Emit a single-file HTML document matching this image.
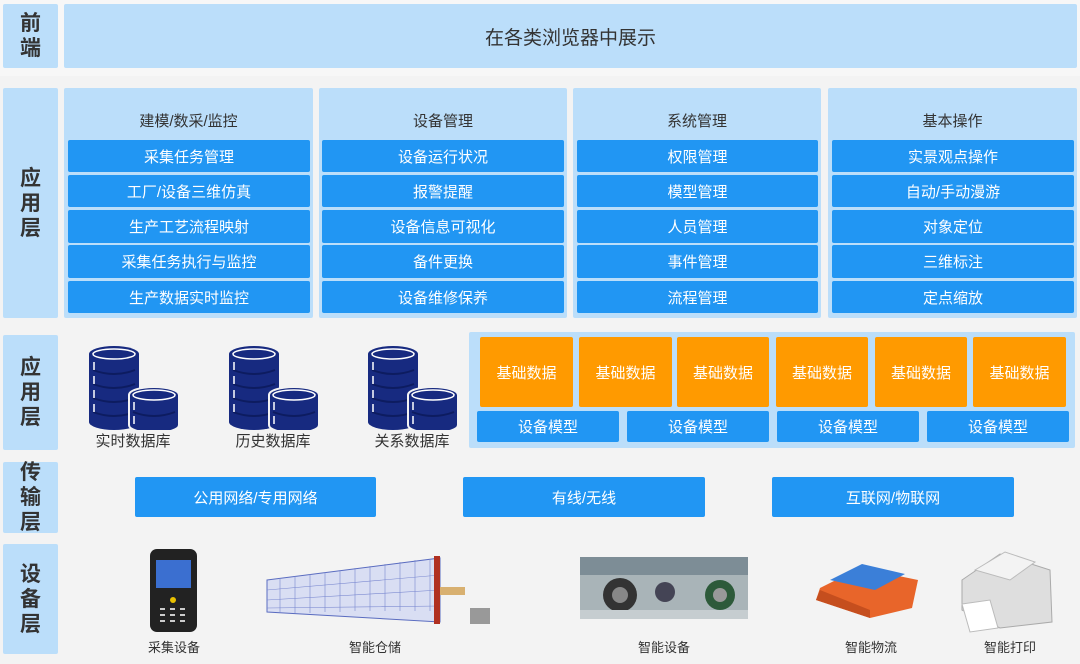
<!DOCTYPE html>
<html><head><meta charset="utf-8"><style>
*{margin:0;padding:0;box-sizing:border-box}
body{width:1080px;height:664px;background:#f3f3f3;position:relative;overflow:hidden;font-family:"Liberation Sans","Noto Sans CJK SC",sans-serif}
.a{position:absolute}
.lb{background:#bbdefa;border-radius:2px}
.lab{display:flex;flex-direction:column;align-items:center;justify-content:center;font-weight:bold;font-size:21px;color:#333;line-height:25px}
.bl{background:#2196f3;color:#fff;font-size:15px;display:flex;align-items:center;justify-content:center;border-radius:2px}
.or{background:#ff9a00;color:#fff;font-size:15px;display:flex;align-items:center;justify-content:center;border-radius:2px}
.hd{font-size:15px;color:#333;text-align:center}
.cap{font-size:13px;color:#333;text-align:center}
.dbc{font-size:15px;color:#333;text-align:center}
</style></head><body>
<div class="a" style="left:0;top:0;width:1080px;height:76px;background:#f7f7f7"></div>
<div class="a lb lab" style="left:3px;top:4px;width:55px;height:64px"><span>前</span><span>端</span></div>
<div class="a lb" style="left:64px;top:4px;width:1013px;height:64px;display:flex;align-items:center;justify-content:center;font-size:19px;color:#333">在各类浏览器中展示</div>

<div class="a lb lab" style="left:3px;top:88px;width:55px;height:230px"><span>应</span><span>用</span><span>层</span></div>

<div class="a lb" style="left:64px;top:88px;width:249px;height:230px"></div>
<div class="a lb" style="left:319px;top:88px;width:248px;height:230px"></div>
<div class="a lb" style="left:573px;top:88px;width:248px;height:230px"></div>
<div class="a lb" style="left:828px;top:88px;width:249px;height:230px"></div>
<div class="a hd" style="left:64px;top:110px;width:249px">建模/数采/监控</div>
<div class="a hd" style="left:319px;top:110px;width:248px">设备管理</div>
<div class="a hd" style="left:573px;top:110px;width:248px">系统管理</div>
<div class="a hd" style="left:828px;top:110px;width:249px">基本操作</div>

<div class="a bl" style="left:68px;top:140px;width:242px;height:32px">采集任务管理</div>
<div class="a bl" style="left:68px;top:175px;width:242px;height:32px">工厂/设备三维仿真</div>
<div class="a bl" style="left:68px;top:210px;width:242px;height:33px">生产工艺流程映射</div>
<div class="a bl" style="left:68px;top:245px;width:242px;height:33px">采集任务执行与监控</div>
<div class="a bl" style="left:68px;top:281px;width:242px;height:32px">生产数据实时监控</div>

<div class="a bl" style="left:322px;top:140px;width:242px;height:32px">设备运行状况</div>
<div class="a bl" style="left:322px;top:175px;width:242px;height:32px">报警提醒</div>
<div class="a bl" style="left:322px;top:210px;width:242px;height:33px">设备信息可视化</div>
<div class="a bl" style="left:322px;top:245px;width:242px;height:33px">备件更换</div>
<div class="a bl" style="left:322px;top:281px;width:242px;height:32px">设备维修保养</div>

<div class="a bl" style="left:577px;top:140px;width:241px;height:32px">权限管理</div>
<div class="a bl" style="left:577px;top:175px;width:241px;height:32px">模型管理</div>
<div class="a bl" style="left:577px;top:210px;width:241px;height:33px">人员管理</div>
<div class="a bl" style="left:577px;top:245px;width:241px;height:33px">事件管理</div>
<div class="a bl" style="left:577px;top:281px;width:241px;height:32px">流程管理</div>

<div class="a bl" style="left:832px;top:140px;width:242px;height:32px">实景观点操作</div>
<div class="a bl" style="left:832px;top:175px;width:242px;height:32px">自动/手动漫游</div>
<div class="a bl" style="left:832px;top:210px;width:242px;height:33px">对象定位</div>
<div class="a bl" style="left:832px;top:245px;width:242px;height:33px">三维标注</div>
<div class="a bl" style="left:832px;top:281px;width:242px;height:32px">定点缩放</div>

<div class="a lb lab" style="left:3px;top:335px;width:55px;height:115px"><span>应</span><span>用</span><span>层</span></div>

<svg class="a" style="left:0;top:330px" width="470" height="100">
<defs><g id="db">
<path d="M0,14 a25,8 0 0 1 50,0 v68 a25,8 0 0 1 -50,0z" fill="#172a80"/>
<ellipse cx="25" cy="14" rx="21" ry="5" fill="none" stroke="#fff" stroke-width="1.5"/>
<path d="M4,30 q21,8 42,0 M4,44 q21,8 42,0 M4,58 q21,8 42,0 M4,72 q21,8 42,0" fill="none" stroke="#0d1c60" stroke-width="2"/>
<path d="M5,22v8M5,36v8M5,50v8M5,64v8" stroke="#fff" stroke-width="1.5"/>
<path d="M40,55 a25,8 0 0 1 50,0 v30 a25,8 0 0 1 -50,0z" fill="#172a80" stroke="#f3f3f3" stroke-width="2"/>
<ellipse cx="65" cy="55" rx="21" ry="5" fill="none" stroke="#fff" stroke-width="1.5"/>
<path d="M44,72 q21,8 42,0" fill="none" stroke="#0d1c60" stroke-width="2"/>
<path d="M45,62v8M45,76v8" stroke="#fff" stroke-width="1.5"/>
</g></defs>
<use href="#db" x="89" y="10"/>
<use href="#db" x="229" y="10"/>
<use href="#db" x="368" y="10"/>
</svg>
<div class="a dbc" style="left:82px;top:430px;width:102px">实时数据库</div>
<div class="a dbc" style="left:222px;top:430px;width:102px">历史数据库</div>
<div class="a dbc" style="left:361px;top:430px;width:102px">关系数据库</div>

<div class="a lb" style="left:469px;top:332px;width:606px;height:116px"></div>
<div class="a or" style="left:480px;top:337px;width:93px;height:70px">基础数据</div>
<div class="a or" style="left:579px;top:337px;width:93px;height:70px">基础数据</div>
<div class="a or" style="left:677px;top:337px;width:92px;height:70px">基础数据</div>
<div class="a or" style="left:776px;top:337px;width:92px;height:70px">基础数据</div>
<div class="a or" style="left:875px;top:337px;width:92px;height:70px">基础数据</div>
<div class="a or" style="left:973px;top:337px;width:93px;height:70px">基础数据</div>
<div class="a bl" style="left:477px;top:411px;width:142px;height:31px">设备模型</div>
<div class="a bl" style="left:627px;top:411px;width:142px;height:31px">设备模型</div>
<div class="a bl" style="left:777px;top:411px;width:142px;height:31px">设备模型</div>
<div class="a bl" style="left:927px;top:411px;width:142px;height:31px">设备模型</div>

<div class="a lb lab" style="left:3px;top:462px;width:55px;height:71px"><span>传</span><span>输</span><span>层</span></div>
<div class="a bl" style="left:135px;top:477px;width:241px;height:40px">公用网络/专用网络</div>
<div class="a bl" style="left:463px;top:477px;width:242px;height:40px">有线/无线</div>
<div class="a bl" style="left:772px;top:477px;width:242px;height:40px">互联网/物联网</div>

<div class="a lb lab" style="left:3px;top:544px;width:55px;height:110px"><span>设</span><span>备</span><span>层</span></div>

<svg class="a" style="left:0;top:540px" width="1080" height="100">
<!-- scanner -->
<rect x="150" y="9" width="47" height="83" rx="7" fill="#222"/>
<rect x="156" y="20" width="35" height="28" fill="#3b6fd0"/>
<circle cx="173" cy="60" r="3" fill="#e8c000"/>
<g fill="#ccc"><rect x="160" y="68" width="5" height="2"/><rect x="170" y="68" width="5" height="2"/><rect x="180" y="68" width="5" height="2"/><rect x="160" y="74" width="5" height="2"/><rect x="170" y="74" width="5" height="2"/><rect x="180" y="74" width="5" height="2"/><rect x="160" y="80" width="5" height="2"/><rect x="170" y="80" width="5" height="2"/><rect x="180" y="80" width="5" height="2"/></g>
<!-- warehouse -->
<polygon points="267,40 440,18 440,82 267,72" fill="#d9def3" stroke="#5a6cc0"/>
<g stroke="#7a88d0" stroke-width="0.6">
<path d="M280,38v35M295,36v37M310,34v39M325,32v40M340,30v42M355,28v43M370,26v45M385,24v47M400,22v49M415,20v51M430,19v52"/>
<path d="M267,50 440,35M267,60 440,50M267,68 440,66"/>
</g>
<rect x="434" y="16" width="6" height="68" fill="#b03020"/>
<rect x="440" y="47" width="25" height="8" fill="#d8b070"/>
<rect x="470" y="68" width="20" height="16" fill="#999"/>
<!-- smart device photo -->
<rect x="580" y="17" width="168" height="62" fill="#a9b4b8"/>
<rect x="580" y="17" width="168" height="18" fill="#7d8d96"/>
<circle cx="620" cy="55" r="17" fill="#333"/><circle cx="620" cy="55" r="8" fill="#888"/>
<circle cx="720" cy="55" r="15" fill="#2d5a3a"/><circle cx="720" cy="55" r="7" fill="#999"/>
<circle cx="665" cy="52" r="10" fill="#445"/>
<rect x="580" y="70" width="168" height="9" fill="#c6cdd0"/>
<!-- AGV -->
<polygon points="820,48 860,28 918,40 912,68 870,78 816,60" fill="#e8652a"/>
<polygon points="830,40 862,24 905,34 875,50" fill="#3b7fd8"/>
<polygon points="816,60 870,78 870,70 820,50" fill="#c54e1e"/>
<!-- printer -->
<polygon points="962,40 1000,14 1050,30 1052,82 1000,88 962,70" fill="#dedede" stroke="#aaa"/>
<polygon points="975,30 1005,12 1035,22 1010,40" fill="#f3f3f3" stroke="#bbb"/>
<polygon points="962,64 990,60 998,88 970,92" fill="#fff" stroke="#bbb"/>
</svg>
<div class="a cap" style="left:134px;top:637px;width:80px">采集设备</div>
<div class="a cap" style="left:335px;top:637px;width:80px">智能仓储</div>
<div class="a cap" style="left:624px;top:637px;width:80px">智能设备</div>
<div class="a cap" style="left:831px;top:637px;width:80px">智能物流</div>
<div class="a cap" style="left:970px;top:637px;width:80px">智能打印</div>
</body></html>
